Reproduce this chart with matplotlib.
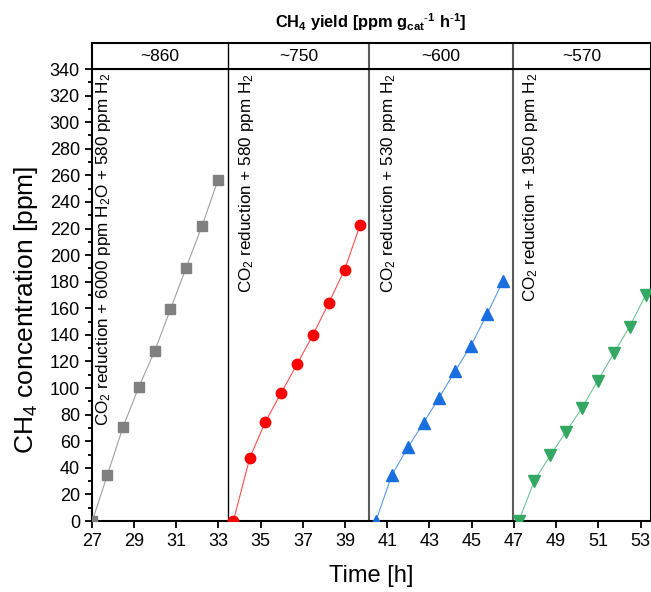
import numpy as np
import matplotlib
matplotlib.use('Agg')
import matplotlib.pyplot as plt

plt.rcParams['font.family'] = ['Liberation Sans', 'DejaVu Sans']
plt.rcParams['mathtext.fontset'] = 'custom'
plt.rcParams['mathtext.rm'] = 'Liberation Sans'
plt.rcParams['mathtext.it'] = 'Liberation Sans:italic'
plt.rcParams['mathtext.bf'] = 'Liberation Sans:bold'
plt.rcParams['mathtext.default'] = 'rm'

# gray squares: CO2 + H2O + H2
t_gray = [27.03, 27.74, 28.49, 29.23, 29.99, 30.73, 31.47, 32.23, 32.98]
c_gray = [0, 34.6, 70.9, 100.8, 128.1, 159.2, 190.5, 222.1, 256.5]
# red circles
t_red = [33.71, 34.49, 35.23, 35.98, 36.73, 37.48, 38.22, 38.98, 39.72]
c_red = [0, 47.6, 74.7, 96.5, 118.0, 140.0, 163.7, 189.0, 222.9]
# blue up triangles
t_blue = [40.46, 41.22, 41.98, 42.72, 43.46, 44.22, 44.97, 45.73, 46.49]
c_blue = [0, 34.6, 55.4, 74.0, 92.8, 113.0, 132.0, 155.7, 180.8]
# green down triangles
t_green = [47.23, 47.97, 48.73, 49.47, 50.23, 50.97, 51.73, 52.48, 53.24]
c_green = [0, 30.3, 49.6, 67.2, 85.2, 105.5, 126.1, 146.2, 170.0]

separators = [33.45, 40.15, 46.96]
sep_colors = ['black', '#5a5a5a', '#5a5a5a']
yields = ['~860', '~750', '~600', '~570']
conditions = [r'CO$_2$ reduction + 6000 ppm H$_2$O + 580 ppm H$_2$',
              r'CO$_2$ reduction + 580 ppm H$_2$',
              r'CO$_2$ reduction + 530 ppm H$_2$',
              r'CO$_2$ reduction + 1950 ppm H$_2$']
cond_x = [27.55, 34.35, 41.08, 47.8]

xmin, xmax = 27, 53.47
W, H = 651, 592

fig = plt.figure(figsize=(W / 100, H / 100), dpi=100)
left, right = 91.7, 650.5
top, bottom = 69, 521
ax = fig.add_axes([left / W, 1 - bottom / H, (right - left) / W, (bottom - top) / H])
hax = fig.add_axes([left / W, 1 - top / H, (right - left) / W, (top - 43.3) / H])

series = [
    (t_gray, c_gray, 's', '#808080', '#a0a0a0', 6.5),
    (t_red, c_red, 'o', '#ff0000', '#ff5050', 7.5),
    (t_blue, c_blue, '^', '#1a6fdf', '#5a9be8', 8.5),
    (t_green, c_green, 'v', '#33a863', '#70c494', 8.5),
]
for t, c, m, col, lcol, ms in series:
    ax.plot(t, c, '-', color=lcol, lw=0.8, zorder=2)
    ax.plot(t, c, m, color=col, ms=ms, mec=col, zorder=3, linestyle='none')

for x, col in zip(separators, sep_colors):
    lw = 1.0 if col == 'black' else 1.5
    ax.axvline(x, color=col, lw=lw, zorder=1)
    hax.axvline(x, color=col, lw=lw)

for x, s in zip(cond_x, conditions):
    ax.text(x, 337, s, rotation=90, ha='center', va='top', fontsize=12.3)

ax.set_xlim(xmin, xmax)
ax.set_ylim(0, 340)
ax.set_xticks(np.arange(27, 54, 2))
ax.set_yticks(np.arange(0, 341, 20))
ax.set_yticks(np.arange(0, 341, 10), minor=True)
ax.tick_params(axis='both', which='major', direction='out', length=5, width=1.3, labelsize=13)
ax.tick_params(axis='y', which='minor', direction='out', length=3, width=1.3)
for sp in ax.spines.values():
    sp.set_linewidth(1.5)
ax.set_xlabel('Time [h]', fontsize=17, labelpad=11)
ax.set_ylabel(r'CH$_4$ concentration [ppm]', fontsize=19)
ax.yaxis.set_label_coords(-0.092, 0.467)

# header strip with yields
hax.set_xlim(xmin, xmax)
hax.set_ylim(0, 1)
hax.set_xticks([])
hax.set_yticks([])
for sp in hax.spines.values():
    sp.set_linewidth(1.5)
edges = [xmin] + separators + [xmax]
for i, s in enumerate(yields):
    hax.text((edges[i] + edges[i + 1]) / 2, 0.5, s, ha='center', va='center', fontsize=12.5)
hax.set_title(r'CH$_\mathbf{4}$ yield [ppm g$_\mathbf{cat}$$^{\text{-}\mathbf{1}}$ h$^{\text{-}\mathbf{1}}$]',
              fontsize=11.8, fontweight='bold', pad=11)

fig.savefig('out.png', dpi=100)
